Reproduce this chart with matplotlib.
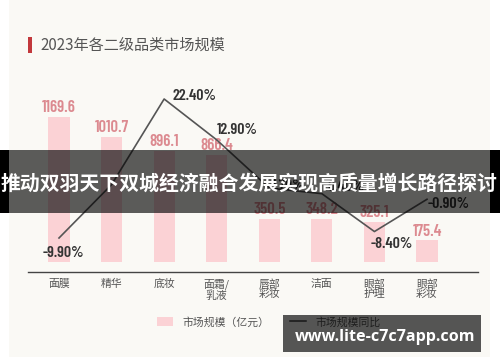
import matplotlib
matplotlib.use('Agg')
import logging
logging.getLogger('matplotlib.font_manager').setLevel(logging.ERROR)
import matplotlib.pyplot as plt
from matplotlib.patches import Rectangle, Patch
from matplotlib.lines import Line2D
from matplotlib import font_manager as fm
import numpy as np

categories = ['面膜', '精华', '底妆', '面霜/\n乳液', '唇部\n彩妆', '洁面', '眼部\n护理', '眼部\n彩妆']
market_size = [1169.6, 1010.7, 896.1, 866.4, 350.5, 348.2, 325.1, 175.4]
yoy = [-9.9, 2.5, 22.4, 12.9, 1.7, 0.4, -8.4, -0.9]
yoy_labels = ['-9.90%', None, '22.40%', '12.90%', '1.70%', '0.40%', '-8.40%', '-0.90%']
size_labels = ['1169.6', '1010.7', '896.1', '866.4', '350.5', '348.2', '325.1', '175.4']
title = '2023年各二级品类市场规模'
legend_labels = ['市场规模（亿元）', '市场规模同比']
banner_text = '推动双羽天下双城经济融合发展实现高质量增长路径探讨'
watermark = 'www.lite-c7c7app.com'

W, H = 500, 362
DPI = 100
CJK = ['Noto Sans CJK SC', 'DejaVu Sans']
installed = {f.name for f in fm.fontManager.ttflist}
narrow_pref = ['Barlow Condensed', 'Roboto Condensed', 'Oswald', 'Archivo Narrow',
               'PT Sans Narrow', 'Liberation Sans Narrow', 'DejaVu Sans']
NUM = [n for n in narrow_pref if n in installed][:1] + ['DejaVu Sans']

fig = plt.figure(figsize=(W / DPI, H / DPI), dpi=DPI)
fig.patch.set_facecolor('white')

def px(x, y):
    return x / W, 1 - y / H

# panel background
fig.patches.append(Rectangle(px(9, 357), (490 - 9) / W, 357 / H, transform=fig.transFigure,
                             facecolor='#faf9f5', edgecolor='none', zorder=-5))

# title
fig.patches.append(Rectangle(px(28, 53), 3.5 / W, 16 / H, transform=fig.transFigure,
                             facecolor='#c2383c', edgecolor='none', zorder=1))
fig.text(40 / W, 1 - 45.5 / H, title, family=CJK, fontsize=10.9, color='#555555',
         va='center', ha='left')

# main axes
ax_l, ax_r, ax_top, ax_bot = 28, 478, 90, 272
ax = fig.add_axes([ax_l / W, 1 - ax_bot / H, (ax_r - ax_l) / W, (ax_bot - ax_top) / H])
ax.patch.set_alpha(0)
x = np.arange(len(categories))
unit = (427 - 59) / 7.0
ax.set_xlim((ax_l - 59) / unit, (ax_r - 59) / unit)
bscale = 1169.6 / 145.0
ax.set_ylim(-10 * bscale, -10 * bscale + (ax_bot - ax_top) * bscale)

ax.bar(x, market_size, width=0.4, color='#fbd2d5', zorder=2)
for xi, v, lab in zip(x, market_size, size_labels):
    ax.annotate(lab, (xi, v), xytext=(0, 1.5), textcoords='offset pixels',
                ha='center', va='bottom', family=NUM, fontweight='semibold',
                fontsize=12, color='#dc8a90', zorder=3)

for s in ['top', 'right', 'left']:
    ax.spines[s].set_visible(False)
ax.spines['bottom'].set_color('#444444')
ax.spines['bottom'].set_linewidth(1.0)
ax.set_yticks([])
ax.set_xticks(x)
ax.set_xticklabels(categories, family=CJK, fontsize=7.8, color='#555555')
ax.tick_params(axis='x', length=0, pad=5)
for lbl in ax.get_xticklabels():
    lbl.set_linespacing(0.95)

# line on twin axis
ax2 = ax.twinx()
ax2.patch.set_alpha(0)
lscale = 32.3 / 139.0
ax2.set_ylim(-9.9 - (ax_bot - 238) * lscale, -9.9 - (ax_bot - 238) * lscale + (ax_bot - ax_top) * lscale)
ax2.set_xlim(ax.get_xlim())
for s in ax2.spines.values():
    s.set_visible(False)
ax2.set_yticks([])
ax2.plot(x, yoy, color='#555555', lw=1.2, zorder=4)
offsets = [(4, -15), None, (30, 3), (21, 10), (19, 2), (24, 7), (17, -12), (22, -5)]
for xi, v, lab, off in zip(x, yoy, yoy_labels, offsets):
    if lab is None:
        continue
    ax2.annotate(lab, (xi, v), xytext=off, textcoords='offset pixels',
                 ha='center', va='center', family=NUM, fontweight='semibold',
                 fontsize=11.5, color='#333333', zorder=5)

# legend
handles = [Patch(facecolor='#fbd2d5', edgecolor='none'),
           Line2D([0], [0], color='#444444', lw=1.1)]
leg = fig.legend(handles, legend_labels, loc='center left',
                 bbox_to_anchor=(147 / W, 1 - 322 / H), ncol=2, frameon=False,
                 prop={'family': CJK, 'size': 7.8}, handlelength=1.5, handleheight=0.85,
                 handletextpad=0.85, columnspacing=1.9, labelcolor='#555555')

# banner overlay
fig.patches.append(Rectangle(px(9, 213), (490 - 9) / W, 63 / H, transform=fig.transFigure,
                             facecolor='black', alpha=0.635, edgecolor='none', zorder=10))
fig.patches.append(Rectangle(px(0, 213), 9 / W, 63 / H, transform=fig.transFigure,
                             facecolor='black', edgecolor='none', zorder=10))
fig.patches.append(Rectangle(px(490, 213), 10 / W, 63 / H, transform=fig.transFigure,
                             facecolor='black', edgecolor='none', zorder=10))
t = fig.text(249 / W, 1 - 183.5 / H, banner_text, family=CJK, fontweight='bold',
             fontsize=14.3, color='white', ha='center', va='center', zorder=11)

# watermark box
fig.patches.append(Rectangle(px(283, 352), (481 - 283) / W, 37 / H, transform=fig.transFigure,
                             facecolor='black', alpha=0.66, edgecolor='none', zorder=10))
fig.text(385 / W, 1 - 337 / H, watermark, family=['Open Sans', 'DejaVu Sans'],
         fontweight='bold', fontsize=11.6, color='white', ha='center', va='center', zorder=11)

fig.savefig('out.png', dpi=DPI, facecolor=fig.get_facecolor())
